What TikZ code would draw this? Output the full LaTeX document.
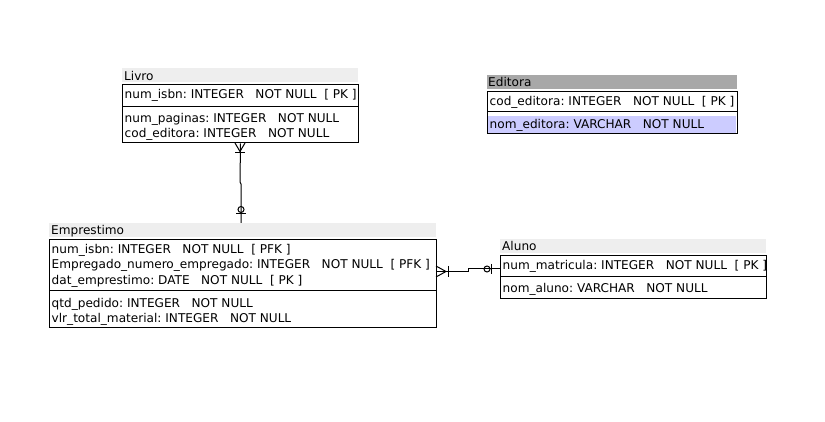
\documentclass[tikz,border=0pt]{standalone}
\usepackage{fontspec}
\setmainfont{DejaVu Sans}
\definecolor{hdrlight}{HTML}{EEEEEE}
\definecolor{hdrdark}{HTML}{A8A8A8}
\definecolor{hilite}{HTML}{CCCCFF}
\begin{document}
\frenchspacing
\begin{tikzpicture}[x=1pt,y=-1pt,
  tbl/.style={draw=black,line width=1pt,fill=white,inner sep=0pt,anchor=north west},
  hdr/.style={draw=none,inner sep=0pt,outer sep=0pt,anchor=north west,minimum height=14pt},
  txt/.style={anchor=base west,inner sep=0pt,font=\fontsize{12.1}{14}\selectfont\frenchspacing},
  rel/.style={line width=1pt,draw=black},
  divline/.style={line width=1pt,draw=black}]
\useasboundingbox[fill=white] (0,0) rectangle (825,422);

% ---------- Livro ----------
\node[hdr,fill=hdrlight,minimum width=236pt] (livroh) at (122,68.5) {};
\node[tbl,minimum width=236pt,minimum height=58pt] (livro) at (122,84.5) {};
\draw[divline] (122,106.5) -- (358,106.5);
\node[txt] (livrot) at (124,80.5) {Livro};
\node[txt] (livro1) at (124.5,99) {num\_isbn: INTEGER~~~NOT NULL~~[ PK ]};
\node[txt] (livro2) at (124.5,123) {num\_paginas: INTEGER~~~NOT NULL};
\node[txt] (livro3) at (124.5,138) {cod\_editora: INTEGER~~~NOT NULL};

% ---------- Editora ----------
\node[hdr,fill=hdrdark,minimum width=250pt] (editorah) at (487,75) {};
\node[tbl,minimum width=250pt,minimum height=42.5pt] (editora) at (487,91) {};
\fill[hilite] (488,116) rectangle (736,133);
\draw[divline] (487,112) -- (737,112);
\node[txt] (editorat) at (488,86.5) {Editora};
\node[txt] (editora1) at (489.5,105.5) {cod\_editora: INTEGER~~~NOT NULL~~[ PK ]};
\node[txt] (editora2) at (489.5,129) {nom\_editora: VARCHAR~~~NOT NULL};

% ---------- Emprestimo ----------
\node[hdr,fill=hdrlight,minimum width=387pt] (emprh) at (49,223) {};
\node[tbl,minimum width=387pt,minimum height=88pt] (empr) at (49,239) {};
\draw[divline] (49,291) -- (436,291);
\node[txt] (emprt) at (51,235) {Emprestimo};
\node[txt] (empr1) at (51.5,253.5) {num\_isbn: INTEGER~~~NOT NULL~~[ PFK ]};
\node[txt] (empr2) at (51.5,269) {Empregado\_numero\_empregado: INTEGER~~~NOT NULL~~[ PFK ]};
\node[txt] (empr3) at (51.5,284.5) {dat\_emprestimo: DATE~~~NOT NULL~~[ PK ]};
\node[txt] (empr4) at (51.5,308) {qtd\_pedido: INTEGER~~~NOT NULL};
\node[txt] (empr5) at (51.5,323) {vlr\_total\_material: INTEGER~~~NOT NULL};

% ---------- Aluno ----------
\node[hdr,fill=hdrlight,minimum width=266pt] (alunoh) at (500,239) {};
\node[tbl,minimum width=266pt,minimum height=42.5pt] (aluno) at (500,255) {};
\draw[divline] (500,277) -- (766,277);
\node[txt] (alunot) at (502,250.5) {Aluno};
\node[txt] (aluno1) at (502.5,269.5) {num\_matricula: INTEGER~~~NOT NULL~~[ PK ]};
\node[txt] (aluno2) at (502.5,293) {nom\_aluno: VARCHAR~~~NOT NULL};

% ---------- Livro -- Emprestimo ----------
\coordinate (v1) at (240,182);
\coordinate (v2) at (241,184);
\draw[rel] (livro.south) -- (v1) -- (v2) -- (v2 |- emprh.north);
\draw[rel] (235,143) -- (240,151.5) -- (245,143);
\draw[rel] (235,153) -- (245,153);
\draw[rel] (241,209.5) circle (3pt);
\draw[rel] (236,213.5) -- (246,213.5);

% ---------- Emprestimo -- Aluno ----------
\coordinate (h1) at (468,271.5);
\coordinate (h2) at (468,269);
\draw[rel] (h1 -| empr.east) -- (h1) -- (h2) -- (h2 -| aluno.west);
\draw[rel] (436,266) -- (446,271.5) -- (436,277);
\draw[rel] (448,266) -- (448,277);
\draw[rel] (487,269) circle (3pt);
\draw[rel] (491,264) -- (491,274);
\end{tikzpicture}
\end{document}
